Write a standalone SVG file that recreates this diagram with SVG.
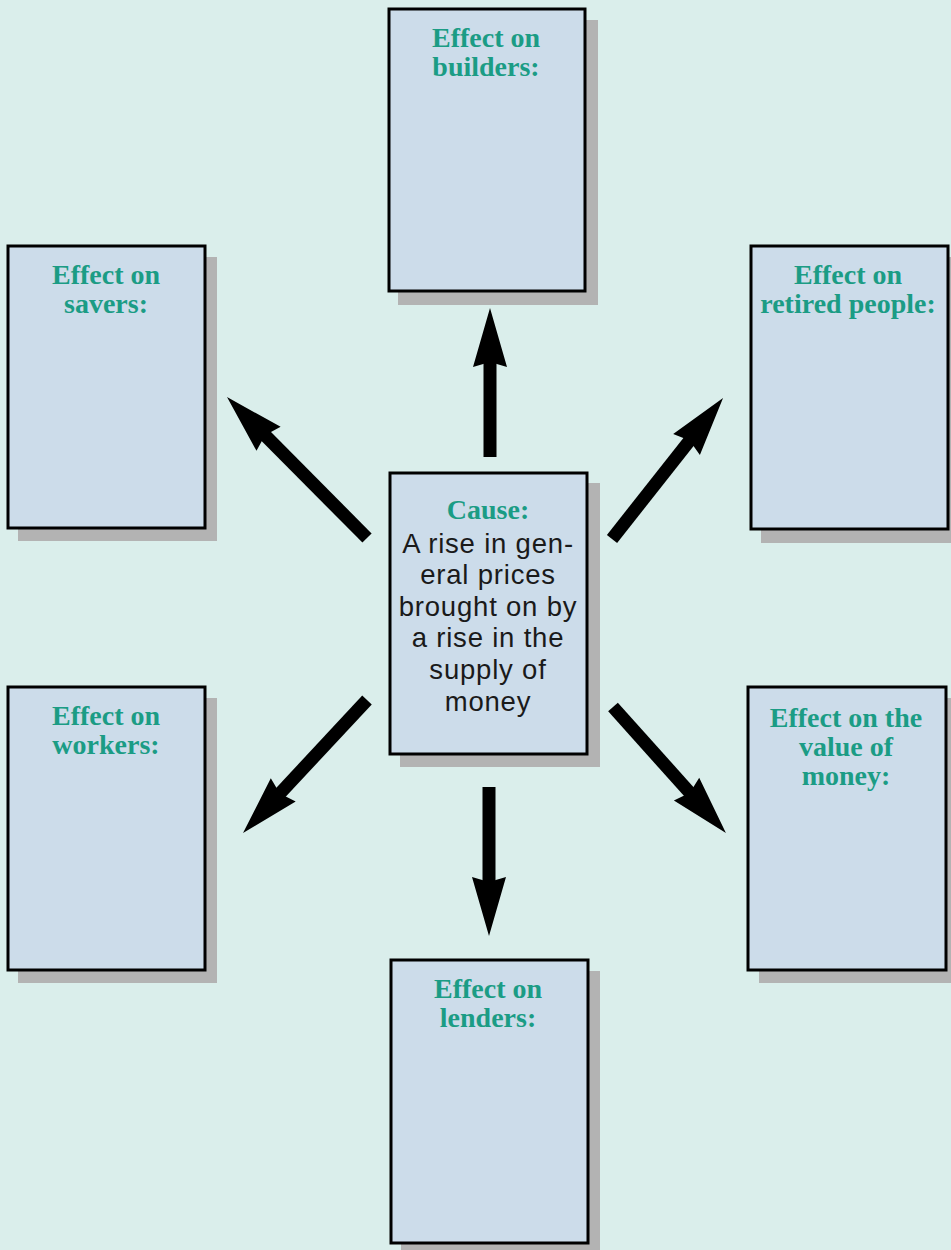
<svg xmlns="http://www.w3.org/2000/svg" width="951" height="1250" viewBox="0 0 951 1250">
<style>
.bg{fill:#daeeeb}
.sh{fill:#b3b3b3}
.bx{fill:#ccdcea;stroke:#000;stroke-width:3}
.tt{font-family:"Liberation Serif","Times New Roman",serif;font-weight:bold;font-size:28px;fill:#1b9c85;text-anchor:middle}
.bd{font-family:"Liberation Sans",Arial,sans-serif;font-size:27.5px;letter-spacing:0.8px;fill:#1a1a1a;text-anchor:middle}
.ar{stroke:#000;stroke-width:13;fill:none;stroke-linecap:butt;marker-end:url(#head)}
</style>
<defs>
<marker id="head" markerUnits="userSpaceOnUse" markerWidth="70" markerHeight="40" viewBox="0 -20 70 40" refX="14" refY="0" orient="auto" overflow="visible">
<path d="M0,-17 L59,0 L0,17 L5,0 Z" fill="#000"/>
</marker>
</defs>
<rect class="bg" x="0" y="0" width="951" height="1250"/>

<g id="connectors">
<path class="ar" d="M490,457 L490,353"/>
<path class="ar" d="M489,787 L489,891"/>
<path class="ar" d="M612,539 L695.2,433.4"/>
<path class="ar" d="M367,538 L258.7,428.9"/>
<path class="ar" d="M613,707 L695.9,799.5"/>
<path class="ar" d="M367,700 L273.7,800.1"/>
</g>

<g id="builders">
<rect class="sh" x="398" y="20" width="200" height="285"/>
<rect class="bx" x="389" y="9" width="196" height="282"/>
<text class="tt" x="486" y="47">Effect on</text>
<text class="tt" x="486" y="76">builders:</text>
</g>

<g id="savers">
<rect class="sh" x="18" y="257" width="199" height="284"/>
<rect class="bx" x="8" y="246" width="197" height="282"/>
<text class="tt" x="106" y="284">Effect on</text>
<text class="tt" x="106" y="313">savers:</text>
</g>

<g id="retired">
<rect class="sh" x="761" y="257" width="200" height="286"/>
<rect class="bx" x="751" y="246" width="197" height="283"/>
<text class="tt" x="848" y="284">Effect on</text>
<text class="tt" x="848" y="313">retired people:</text>
</g>

<g id="cause">
<rect class="sh" x="400" y="483" width="200" height="284"/>
<rect class="bx" x="390" y="473" width="197" height="281"/>
<text class="tt" x="488" y="519">Cause:</text>
<text class="bd" x="488" y="553">A rise in gen-</text>
<text class="bd" x="488" y="584">eral prices</text>
<text class="bd" x="488" y="616">brought on by</text>
<text class="bd" x="488" y="647">a rise in the</text>
<text class="bd" x="488" y="679">supply of</text>
<text class="bd" x="488" y="711">money</text>
</g>

<g id="workers">
<rect class="sh" x="18" y="698" width="199" height="285"/>
<rect class="bx" x="8" y="687" width="197" height="283"/>
<text class="tt" x="106" y="725">Effect on</text>
<text class="tt" x="106" y="754">workers:</text>
</g>

<g id="value">
<rect class="sh" x="759" y="698" width="200" height="285"/>
<rect class="bx" x="748" y="687" width="198" height="283"/>
<text class="tt" x="846" y="727">Effect on the</text>
<text class="tt" x="846" y="756">value of</text>
<text class="tt" x="846" y="785">money:</text>
</g>

<g id="lenders">
<rect class="sh" x="401" y="971" width="199" height="285"/>
<rect class="bx" x="391" y="960" width="197" height="283"/>
<text class="tt" x="488" y="998">Effect on</text>
<text class="tt" x="488" y="1027">lenders:</text>
</g>
</svg>
